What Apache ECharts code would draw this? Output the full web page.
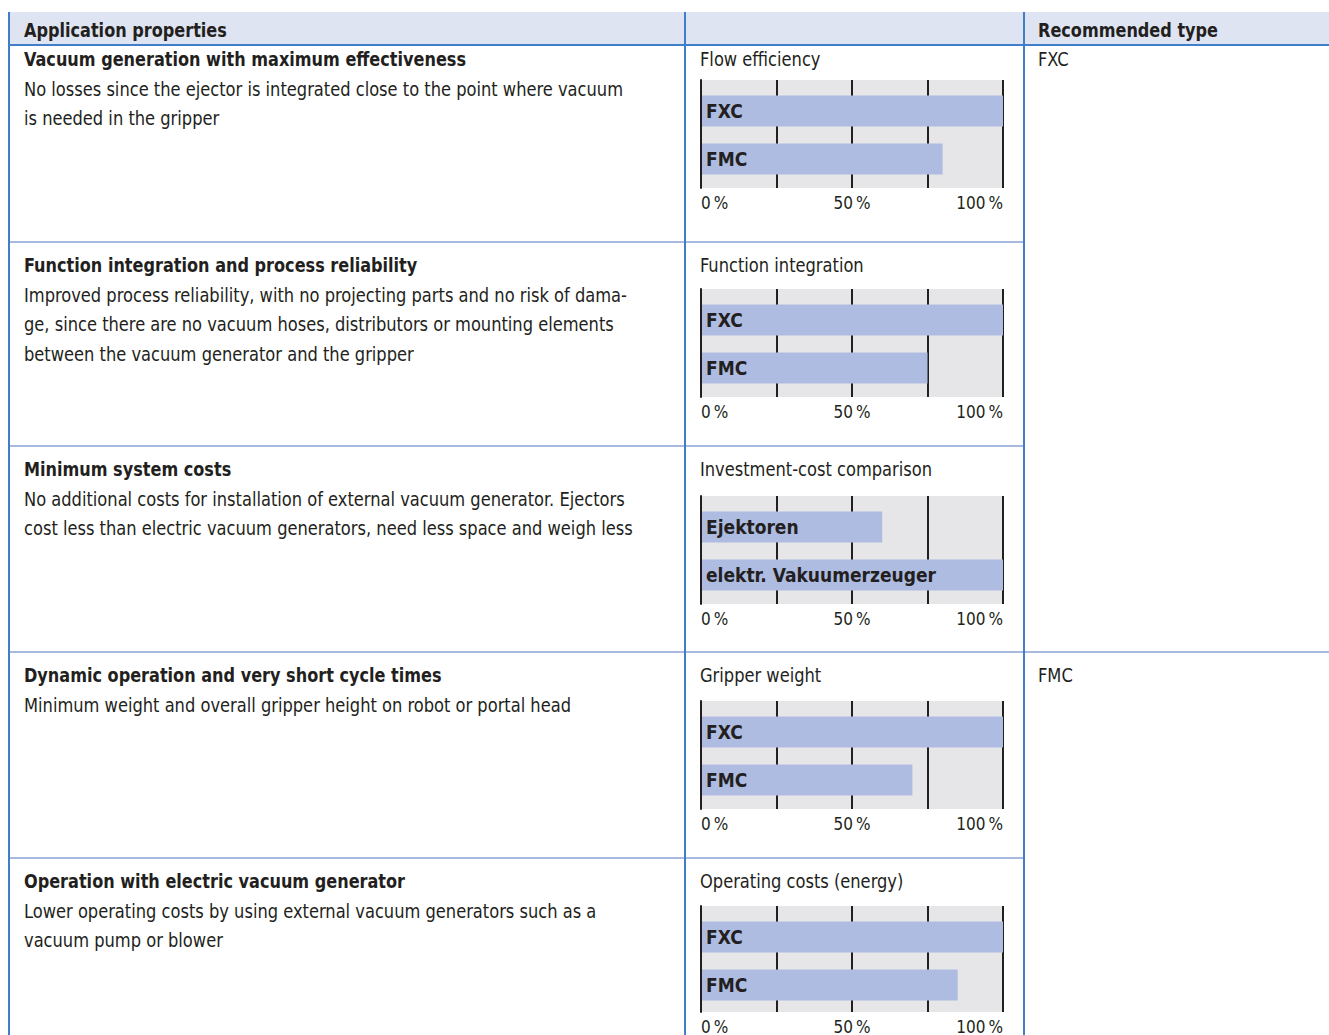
<!DOCTYPE html>
<html>
<head>
<meta charset="utf-8">
<script src="https://cdn.jsdelivr.net/npm/echarts@6/dist/echarts.min.js"></script>
<style>
  html, body { margin: 0; padding: 0; background: #fff; }
  #main { width: 1329px; height: 1035px; }
</style>
</head>
<body>
<div id="main"></div>
<script>
// data
const chartTitles = ['Flow efficiency', 'Function integration', 'Investment-cost comparison', 'Gripper weight', 'Operating costs (energy)'];
const barNames = [
  ['FXC', 'FMC'],
  ['FXC', 'FMC'],
  ['Ejektoren', 'elektr. Vakuumerzeuger'],
  ['FXC', 'FMC'],
  ['FXC', 'FMC']
];
const barValues = [
  [100, 80],
  [100, 75],
  [60, 100],
  [100, 70],
  [100, 85]
];
const tickLabels = { 0: '0\u2009%', 50: '50\u2009%', 100: '100\u2009%' };

const rowTitles = [
  'Vacuum generation with maximum effectiveness',
  'Function integration and process reliability',
  'Minimum system costs',
  'Dynamic operation and very short cycle times',
  'Operation with electric vacuum generator'
];
const rowLines = [
  ['No losses since the ejector is integrated close to the point where vacuum', 'is needed in the gripper'],
  ['Improved process reliability, with no projecting parts and no risk of dama-', 'ge, since there are no vacuum hoses, distributors or mounting elements', 'between the vacuum generator and the gripper'],
  ['No additional costs for installation of external vacuum generator. Ejectors', 'cost less than electric vacuum generators, need less space and weigh less'],
  ['Minimum weight and overall gripper height on robot or portal head'],
  ['Lower operating costs by using external vacuum generators such as a', 'vacuum pump or blower']
];
const recommended = [
  { text: 'FXC', row: 0 },
  { text: 'FMC', row: 3 }
];

const FONT = '"DejaVu Sans Condensed", "Liberation Sans Narrow", sans-serif';
const TXT = '#231f20';
const rowTop = [45, 242, 446, 652, 858];
const plotTop = [80, 289, 496, 701, 906];

const chart = echarts.init(document.getElementById('main'), null, { renderer: 'svg' });

// condensed text: the original face is narrower than anything installed
function label(x, y, text, bold) {
  return {
    type: 'text', x: x, y: y, scaleX: bold ? 0.895 : 0.905,
    style: { x: 0, y: 0, text: text, fontFamily: FONT, fontSize: 20, fontWeight: bold ? 'bold' : 'normal', fill: TXT, verticalAlign: 'middle' }
  };
}

const graphic = [];
// header band
graphic.push({ type: 'rect', shape: { x: 9, y: 12, width: 1320, height: 33 }, style: { fill: '#dfe4f2' }, z: 0 });
graphic.push(label(24, 30, 'Application properties', true));
graphic.push(label(1038, 30, 'Recommended type', true));

// row separators
graphic.push({ type: 'line', shape: { x1: 9, y1: 45, x2: 1329, y2: 45 }, style: { stroke: '#3f7fca', lineWidth: 2 } });
[242, 446, 858].forEach(y => {
  graphic.push({ type: 'line', shape: { x1: 9, y1: y, x2: 1024, y2: y }, style: { stroke: '#a8b9df', lineWidth: 2 } });
});
graphic.push({ type: 'line', shape: { x1: 9, y1: 652, x2: 1329, y2: 652 }, style: { stroke: '#a8b9df', lineWidth: 2 } });

// column lines
[9, 685, 1024].forEach(x => {
  graphic.push({ type: 'line', shape: { x1: x, y1: 12, x2: x, y2: 1035 }, style: { stroke: '#3f7fca', lineWidth: 2 }, z: 10 });
});

// row texts
rowTitles.forEach((t, i) => {
  const y0 = rowTop[i] + (i === 0 ? 14 : 23);
  graphic.push(label(24, y0, t, true));
  rowLines[i].forEach((l, j) => {
    graphic.push(label(24, y0 + 29.5 * (j + 1), l, false));
  });
  graphic.push(label(700, y0, chartTitles[i], false));
});
recommended.forEach(r => {
  const y0 = rowTop[r.row] + (r.row === 0 ? 14 : 23);
  graphic.push(label(1038, y0, r.text, false));
});

const grid = [], xAxis = [], yAxis = [], series = [];
barValues.forEach((vals, i) => {
  // outer grid: grey plot area, grid lines, tick labels
  grid.push({
    left: 701, width: 302, top: plotTop[i], height: 108,
    show: true, backgroundColor: '#e6e6e8', borderWidth: 0
  });
  xAxis.push({
    type: 'value', gridIndex: 2 * i, min: 0, max: 100, interval: 25,
    axisLine: { show: false }, axisTick: { show: false },
    splitLine: { show: true, lineStyle: { color: '#231f20', width: 2 } },
    axisLabel: {
      margin: 6, fontFamily: FONT, fontSize: 17, color: TXT,
      alignMinLabel: 'left', alignMaxLabel: 'right',
      formatter: v => tickLabels[v] || ''
    }
  });
  yAxis.push({
    type: 'category', gridIndex: 2 * i, inverse: true, data: barNames[i], z: 5,
    axisLine: { show: true, lineStyle: { color: '#231f20', width: 2 } },
    axisTick: { show: false }, axisLabel: { show: false }, splitLine: { show: false }
  });
  // inner grid: bars sit a little closer together than the plot bands
  grid.push({ left: 701, width: 302, top: plotTop[i] + 7, height: 96 });
  xAxis.push({ type: 'value', gridIndex: 2 * i + 1, min: 0, max: 100, show: false });
  yAxis.push({ type: 'category', gridIndex: 2 * i + 1, inverse: true, data: barNames[i], show: false });
  series.push({
    type: 'bar', xAxisIndex: 2 * i + 1, yAxisIndex: 2 * i + 1, data: vals, barWidth: 31,
    itemStyle: { color: '#adbce0' },
    label: {
      show: true, position: 'insideLeft', distance: 5, formatter: '{b}',
      fontFamily: FONT, fontSize: 19, fontWeight: 'bold', color: TXT
    },
    silent: true
  });
});

chart.setOption({
  animation: false,
  backgroundColor: '#ffffff',
  grid, xAxis, yAxis, series, graphic
});
</script>
</body>
</html>
